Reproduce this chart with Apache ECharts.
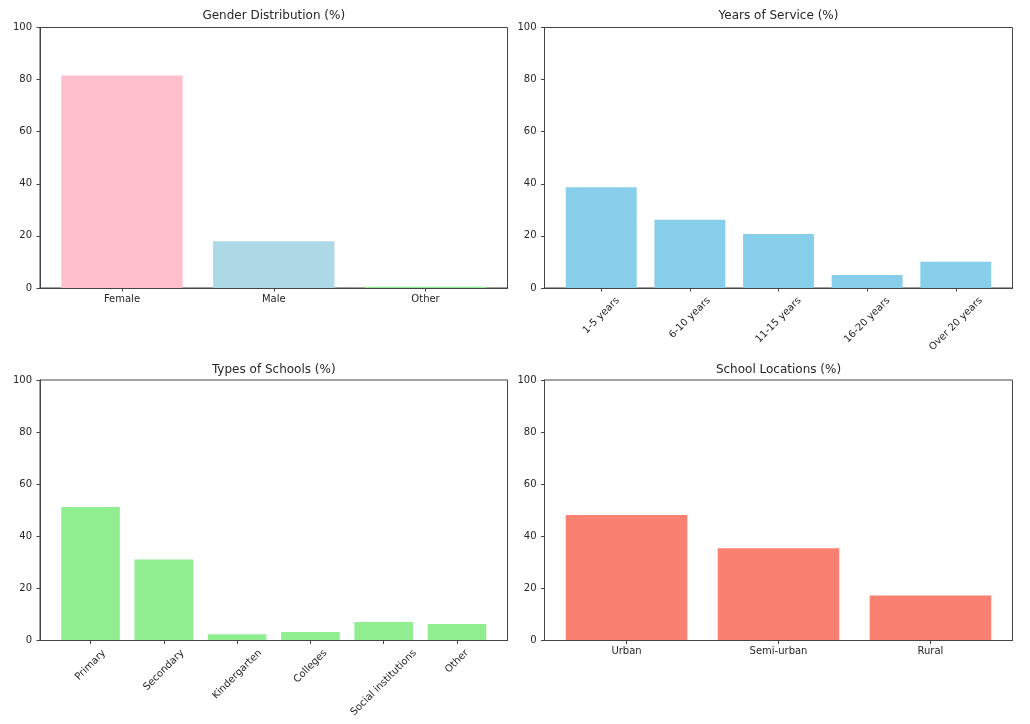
<!DOCTYPE html>
<html>
<head>
<meta charset="utf-8">
<script src="https://cdn.jsdelivr.net/npm/echarts@6/dist/echarts.min.js"></script>
<style>html,body{margin:0;padding:0;background:#fff}#c{width:1030px;height:724px}</style>
</head>
<body>
<div id="c"></div>
<script>
// ---- data ----
const genderCategories = ['Female', 'Male', 'Other'];
const genderValues = [81.6, 17.9, 0.5];
const genderColors = ['#FFC0CB', '#ADD8E6', '#90EE90'];

const serviceCategories = ['1-5 years', '6-10 years', '11-15 years', '16-20 years', 'Over 20 years'];
const serviceValues = [38.7, 26.2, 20.7, 5.0, 10.1];

const schoolCategories = ['Primary', 'Secondary', 'Kindergarten', 'Colleges', 'Social institutions', 'Other'];
const schoolValues = [51.2, 31.1, 2.4, 3.3, 7.1, 6.3];

const locationCategories = ['Urban', 'Semi-urban', 'Rural'];
const locationValues = [48.2, 35.4, 17.3];

const yTicks = [0, 20, 40, 60, 80, 100];

const titles = ['Gender Distribution (%)', 'Years of Service (%)', 'Types of Schools (%)', 'School Locations (%)'];

// ---- layout ----
const FONT = 'DejaVu Sans';
const TXT = '#262626';
const SPINE = '#444';
const panels = [
  {title: titles[0], cats: genderCategories, vals: genderValues, colors: genderColors, rotate: false, f: {left: 40, top: 27.5, width: 467.5, height: 260.5}, titleTop: 10},
  {title: titles[1], cats: serviceCategories, vals: serviceValues, colors: null, color: '#87CEEB', rotate: true, f: {left: 544.5, top: 27.5, width: 468, height: 260.5}, titleTop: 10},
  {title: titles[2], cats: schoolCategories, vals: schoolValues, colors: null, color: '#90EE90', rotate: true, f: {left: 40, top: 380, width: 467.5, height: 260.5}, titleTop: 364},
  {title: titles[3], cats: locationCategories, vals: locationValues, colors: null, color: '#FA8072', rotate: false, f: {left: 544.5, top: 380, width: 468, height: 260.5}, titleTop: 364}
];

const option = {
  animation: false,
  textStyle: {fontFamily: FONT},
  title: [], grid: [], xAxis: [], yAxis: [], series: []
};

const yMin = yTicks[0], yMax = yTicks[yTicks.length - 1], yInt = yTicks[1] - yTicks[0];

panels.forEach((p, i) => {
  const n = p.cats.length;
  // matplotlib-like margins: bars of width 0.8, 5% axis margins
  const inset = p.f.width * (0.05 * (n - 0.2) - 0.1) / ((n - 0.2) * 1.1);
  const fi = 2 * i, di = 2 * i + 1;
  option.title.push({
    text: p.title, left: p.f.left + p.f.width / 2, top: p.titleTop, textAlign: 'center', padding: 0,
    textStyle: {fontFamily: FONT, fontSize: 12, fontWeight: 'normal', color: TXT}
  });
  option.grid.push({left: p.f.left, top: p.f.top, width: p.f.width, height: p.f.height,
    show: true, borderColor: SPINE, borderWidth: 1, backgroundColor: 'transparent'});
  option.grid.push({left: p.f.left + inset, top: p.f.top, width: p.f.width - 2 * inset, height: p.f.height});
  // frame axes
  option.xAxis.push({gridIndex: fi, type: 'value', min: 0, max: 1, z: 5,
    axisLine: {show: true, lineStyle: {color: SPINE, width: 1}},
    axisTick: {show: false}, axisLabel: {show: false}, splitLine: {show: false}});
  option.yAxis.push({gridIndex: fi, type: 'value', min: yMin, max: yMax, interval: yInt, z: 5,
    axisLine: {show: true, lineStyle: {color: SPINE, width: 1}},
    axisTick: {show: true, length: 3.5, lineStyle: {color: SPINE, width: 1}},
    axisLabel: {show: true, margin: 8, fontSize: 10, color: TXT, fontFamily: FONT},
    splitLine: {show: false}});
  // data axes
  option.xAxis.push({gridIndex: di, type: 'category', data: p.cats, z: 5,
    axisLine: {show: false},
    axisTick: {show: true, alignWithLabel: true, interval: 0, length: 3.5, lineStyle: {color: SPINE, width: 1}},
    axisLabel: p.rotate ? {show: false} : {show: true, interval: 0, margin: 6, fontSize: 10, color: TXT, fontFamily: FONT},
    splitLine: {show: false}});
  option.yAxis.push({gridIndex: di, type: 'value', min: yMin, max: yMax, show: false, splitLine: {show: false}});
  option.series.push({
    type: 'bar', xAxisIndex: di, yAxisIndex: di, barCategoryGap: '20%', silent: true,
    data: p.vals.map((v, j) => ({value: v, itemStyle: {color: p.colors ? p.colors[j] : p.color}}))
  });
});

const chart = echarts.init(document.getElementById('c'), null, {renderer: 'canvas'});
chart.setOption(option);

// rotated tick labels centered under ticks (matplotlib rotation=45, ha=center)
const ctx = document.createElement('canvas').getContext('2d');
ctx.font = '10px "' + FONT + '"';
const graphics = [];
panels.forEach((p, i) => {
  if (!p.rotate) return;
  const di = 2 * i + 1;
  const y0 = chart.convertToPixel({yAxisIndex: di}, 0);
  p.cats.forEach((c) => {
    const x = chart.convertToPixel({xAxisIndex: di}, c);
    const w = ctx.measureText(c).width;
    const h = 11;
    graphics.push({
      type: 'text', x: x + 0.3536 * w, y: y0 + 7 + 0.3536 * h, rotation: Math.PI / 4, silent: true,
      style: {text: c, font: '10px "' + FONT + '"', fill: TXT, align: 'right', verticalAlign: 'middle'}
    });
  });
});
chart.setOption({graphic: graphics});
</script>
</body>
</html>
